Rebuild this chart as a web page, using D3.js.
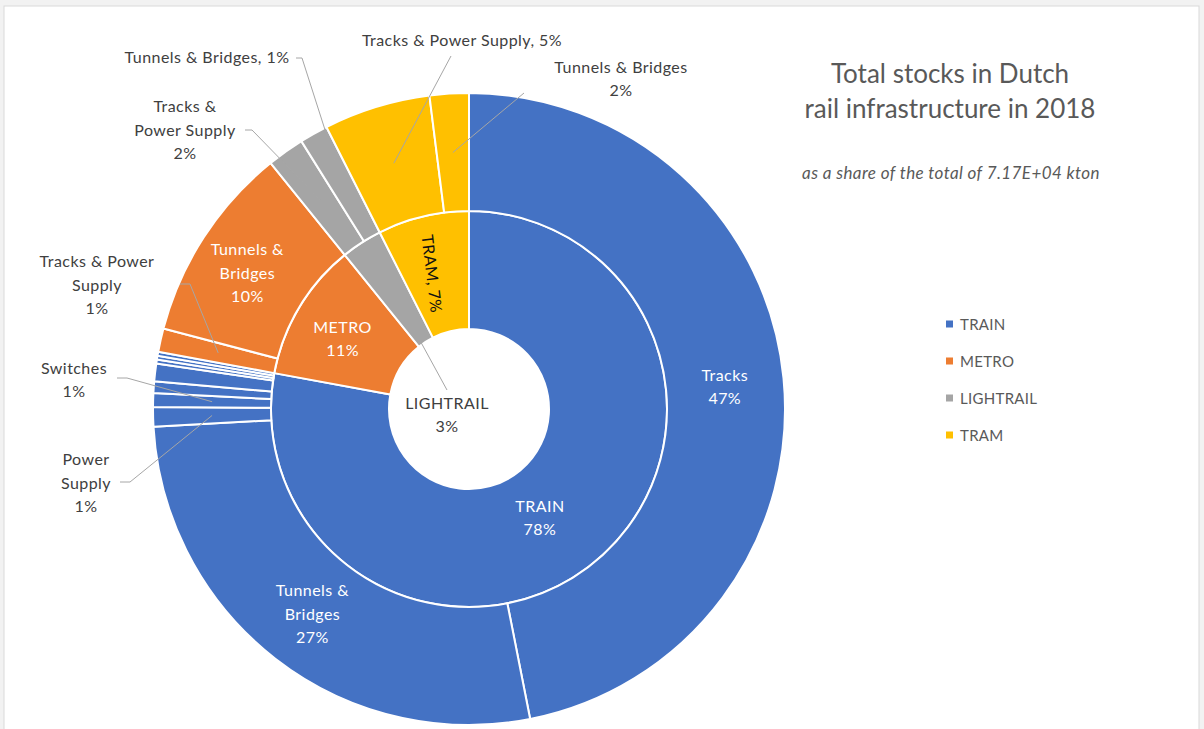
<!DOCTYPE html>
<html>
<head>
<meta charset="utf-8">
<title>Total stocks in Dutch rail infrastructure in 2018</title>
<script src="https://cdn.jsdelivr.net/npm/d3@7"></script>
<style>
  html, body { margin: 0; padding: 0; background: #f2f2f2; }
  svg { display: block; }
  text { font-family: Lato, "Open Sans", "Noto Sans", sans-serif; }
</style>
</head>
<body>
<svg id="chart" width="1204" height="729"></svg>
<script>
// Transport modes (inner ring) and their colours
const modes = ["TRAIN", "METRO", "LIGHTRAIL", "TRAM"];
const modeColors = ["#4472C4", "#ED7D31", "#A5A5A5", "#FFC000"];

// Components (outer ring), in drawing order, as % of the total stock.
// Unnamed entries are minor components that carry no label.
const partMode = ["TRAIN", "TRAIN", "TRAIN", "TRAIN", "TRAIN", "TRAIN", "TRAIN", "TRAIN", "TRAIN",
                  "METRO", "METRO",
                  "LIGHTRAIL", "LIGHTRAIL",
                  "TRAM", "TRAM"];
const partName = ["Tracks", "Tunnels & Bridges", "Power Supply", "Switches", "", "", "", "", "",
                  "Tracks & Power Supply", "Tunnels & Bridges",
                  "Tracks & Power Supply", "Tunnels & Bridges",
                  "Tracks & Power Supply", "Tunnels & Bridges"];
const partShare = [46.9, 27.2, 1.0, 0.7, 0.6, 0.9, 0.2, 0.2, 0.2,
                   1.2, 10.1,
                   1.9, 1.45,
                   5.45, 2.0];

const legendLabels = ["TRAIN", "METRO", "LIGHTRAIL", "TRAM"];
const titleLines = ["Total stocks in Dutch", "rail infrastructure in 2018"];
const subtitleText = "as a share of the total of 7.17E+04 kton";

// ---------------------------------------------------------------
const svg = d3.select("#chart");

svg.append("rect").attr("x", 4).attr("y", 6).attr("width", 1195).attr("height", 740)
  .attr("fill", "#ffffff").attr("stroke", "#d9d9d9").attr("stroke-width", 1);

const cx = 469, cy = 409;
const rHole = 80, rMid = 198, rOuter = 316;

const parts = partShare.map((v, i) => ({ i, mode: partMode[i], name: partName[i], value: v }));
const total = d3.sum(parts, d => d.value);
const modeData = modes.map((m, i) => ({
  i, name: m,
  value: d3.sum(parts.filter(p => p.mode === m), p => p.value)
}));
const color = d3.scaleOrdinal().domain(modes).range(modeColors);
const pct = d3.format(".0%");

const pie = d3.pie().sort(null).value(d => d.value);
const innerArcs = pie(modeData);
const outerArcs = pie(parts);

const innerArc = d3.arc().innerRadius(rHole).outerRadius(rMid);
const outerArc = d3.arc().innerRadius(rMid).outerRadius(rOuter);
const innerMidArc = d3.arc().innerRadius((rHole + rMid) / 2).outerRadius((rHole + rMid) / 2);
const outerMidArc = d3.arc().innerRadius((rMid + rOuter) / 2).outerRadius((rMid + rOuter) / 2);

const g = svg.append("g").attr("transform", `translate(${cx},${cy})`);

g.append("g").selectAll("path").data(innerArcs).join("path")
  .attr("d", innerArc)
  .attr("fill", d => color(d.data.name))
  .attr("stroke", "#ffffff").attr("stroke-width", 2).attr("stroke-linejoin", "round");

g.append("g").selectAll("path").data(outerArcs).join("path")
  .attr("d", outerArc)
  .attr("fill", d => color(d.data.mode))
  .attr("stroke", "#ffffff").attr("stroke-width", 2).attr("stroke-linejoin", "round");

// simple word wrap by character budget
function wrap(str, maxChars) {
  const words = str.split(" ");
  const lines = [];
  let cur = "";
  words.forEach(w => {
    const t = cur ? cur + " " + w : w;
    if (t.length > maxChars && cur) { lines.push(cur); cur = w; }
    else cur = t;
  });
  if (cur) lines.push(cur);
  return lines;
}
function labelLines(name, value, opt) {
  const p = pct(value / total);
  if (opt.inline) return [name + ", " + p];
  return wrap(name, opt.wrap || 99).concat([p]);
}

const lineH = 23.5;
const labelSize = 16;
const labelSpacing = 0.45;

function drawLines(sel, lines, x, y, fill) {
  const n = lines.length;
  const t = sel.append("text")
    .attr("x", x).attr("y", y)
    .attr("text-anchor", "middle")
    .attr("fill", fill)
    .attr("font-size", labelSize)
    .attr("letter-spacing", labelSpacing);
  lines.forEach((l, k) => {
    t.append("tspan").attr("x", x)
      .attr("y", y + (k - (n - 1) / 2) * lineH + labelSize * 0.35)
      .text(l);
  });
  return t;
}

const labels = svg.append("g");
const leaders = svg.append("g").attr("fill", "none").attr("stroke", "#a6a6a6").attr("stroke-width", 1);

// Inner ring labels
const innerOpts = {
  TRAIN: { dx: -18, dy: 2, fill: "#ffffff" },
  METRO: { dx: -7, dy: 1, fill: "#ffffff" },
  TRAM: { inline: true, rotate: 83, dx: -5, dy: 0, fill: "#111111" },
  LIGHTRAIL: { at: [447, 415], from: [447, 390], fill: "#404040" }
};
innerArcs.forEach(a => {
  const o = innerOpts[a.data.name];
  const [mx, my] = innerMidArc.centroid(a);
  const lines = labelLines(a.data.name, a.data.value, o);
  if (o.at) {
    drawLines(labels, lines, o.at[0], o.at[1], o.fill);
    leaders.append("path").attr("d", d3.line()([o.from, [cx + mx, cy + my]]));
  } else if (o.rotate) {
    const x = cx + mx + o.dx, y = cy + my + o.dy;
    labels.append("text")
      .attr("transform", `translate(${x},${y}) rotate(${o.rotate})`)
      .attr("text-anchor", "middle").attr("dy", labelSize * 0.35)
      .attr("fill", o.fill).attr("font-size", labelSize)
      .attr("letter-spacing", labelSpacing)
      .text(lines[0]);
  } else {
    drawLines(labels, lines, cx + mx + o.dx, cy + my + o.dy, o.fill);
  }
});

// Outer ring labels: inside ones sit on the ring, callouts get a leader line
const outerOpts = {
  0: { inside: true, wrap: 10, dx: 0, dy: 3 },
  1: { inside: true, wrap: 10, dx: 1, dy: 2 },
  2: { wrap: 6, at: [86, 483], from: [[120, 482], [130, 482]] },
  3: { wrap: 20, at: [74, 380], from: [[117, 378], [127, 378]] },
  9: { wrap: 14, at: [97, 285], from: [[180, 284], [190, 284]] },
  10: { inside: true, wrap: 10, dx: -6, dy: 4 },
  11: { wrap: 12, at: [185, 130], from: [[245, 130], [252, 130]] },
  12: { inline: true, at: [207, 57], from: [[296, 58], [302, 58]] },
  13: { inline: true, at: [462, 40], from: [[451, 56]] },
  14: { wrap: 20, at: [621, 79], from: [[524, 93]] }
};
outerArcs.forEach((a, i) => {
  const o = outerOpts[i];
  if (!o || !a.data.name) return;
  const [mx, my] = outerMidArc.centroid(a);
  const lines = labelLines(a.data.name, a.data.value, o);
  if (o.inside) {
    drawLines(labels, lines, cx + mx + o.dx, cy + my + o.dy, "#ffffff");
  } else {
    drawLines(labels, lines, o.at[0], o.at[1], "#404040");
    leaders.append("path").attr("d", d3.line()(o.from.concat([[cx + mx, cy + my]])));
  }
});

// Title and subtitle
const title = svg.append("g").attr("fill", "#595959");
titleLines.forEach((t, k) => {
  title.append("text").attr("x", 950).attr("y", 83 + k * 35)
    .attr("text-anchor", "middle").attr("font-size", 26).text(t);
});
title.append("text").attr("x", 951).attr("y", 179)
  .attr("text-anchor", "middle").attr("font-size", 17)
  .attr("letter-spacing", 0.4)
  .attr("font-style", "italic").text(subtitleText);

// Legend
const legend = svg.append("g").attr("transform", "translate(946,324)");
legendLabels.forEach((m, k) => {
  const row = legend.append("g").attr("transform", `translate(0,${k * 37})`);
  row.append("rect").attr("x", 0).attr("y", -3.5).attr("width", 7).attr("height", 7)
    .attr("fill", color(m));
  row.append("text").attr("x", 14).attr("y", 5.5).attr("font-size", 15)
    .attr("letter-spacing", 0.3)
    .attr("fill", "#595959").text(m);
});
</script>
</body>
</html>
